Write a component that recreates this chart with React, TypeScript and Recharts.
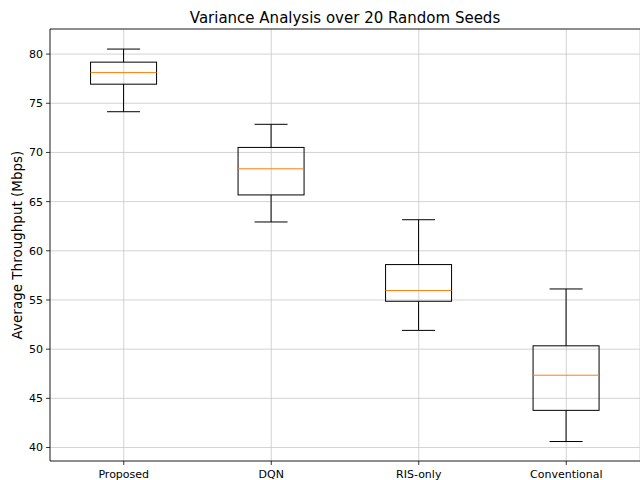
import { BarChart, Bar, XAxis, YAxis, CartesianGrid, ReferenceLine } from "recharts";

const methods = ["Proposed", "DQN", "RIS-only", "Conventional"];
const whiskerLow = [74.14, 62.93, 51.91, 40.61];
const q1 = [76.94, 65.68, 54.87, 43.78];
const median = [78.12, 68.34, 55.96, 47.35];
const q3 = [79.18, 70.51, 58.6, 50.34];
const whiskerHigh = [80.51, 72.86, 63.16, 56.12];
const yTicks = [40, 45, 50, 55, 60, 65, 70, 75, 80];

const Y_MIN = 38.63;
const Y_MAX = 82.55;
const FONT = "'DejaVu Sans', sans-serif";

const data = methods.map((name, i) => ({
  name,
  range: [whiskerLow[i], whiskerHigh[i]],
  lo: whiskerLow[i],
  q1: q1[i],
  med: median[i],
  q3: q3[i],
  hi: whiskerHigh[i],
}));

interface BoxProps {
  x?: number;
  y?: number;
  width?: number;
  height?: number;
  payload?: { lo: number; q1: number; med: number; q3: number; hi: number };
}

// whole whisker span comes from the bar; inner levels are placed along it
function BoxShape({ x = 0, y = 0, width = 0, height = 0, payload }: BoxProps) {
  if (!payload) return null;
  const top = Math.min(y, y + height);
  const h = Math.abs(height);
  const span = payload.hi - payload.lo;
  const yOf = (v: number) => top + ((payload.hi - v) / span) * h;
  const cx = x + width / 2;
  const cap = width / 4;
  const yQ1 = yOf(payload.q1);
  const yQ3 = yOf(payload.q3);
  const yMed = yOf(payload.med);
  const yHi = yOf(payload.hi);
  const yLo = yOf(payload.lo);
  return (
    <g>
      <line x1={cx} x2={cx} y1={yHi} y2={yQ3} stroke="#000" strokeWidth={1} />
      <line x1={cx} x2={cx} y1={yQ1} y2={yLo} stroke="#000" strokeWidth={1} />
      <line x1={cx - cap} x2={cx + cap} y1={yHi} y2={yHi} stroke="#000" strokeWidth={1} />
      <line x1={cx - cap} x2={cx + cap} y1={yLo} y2={yLo} stroke="#000" strokeWidth={1} />
      <rect x={x} y={yQ3} width={width} height={yQ1 - yQ3} fill="none" stroke="#000" strokeWidth={1} />
      <line x1={x} x2={x + width} y1={yMed} y2={yMed} stroke="#ff7f0e" strokeWidth={1} />
    </g>
  );
}

export default function App() {
  return (
    <div style={{ position: "fixed", left: 0, top: 0, width: 640, height: 480, background: "#fff", fontFamily: FONT }}>
      <div
        style={{
          position: "absolute",
          left: 50,
          width: 590,
          top: 10.5,
          textAlign: "center",
          fontSize: 15,
          lineHeight: "15px",
          color: "#000",
          whiteSpace: "nowrap",
        }}
      >
        Variance Analysis over 20 Random Seeds
      </div>
      <div
        style={{
          position: "absolute",
          left: 16.5,
          top: 245,
          transform: "translate(-50%, -50%) rotate(-90deg)",
          whiteSpace: "nowrap",
          fontSize: 13.5,
          lineHeight: "16px",
          color: "#000",
        }}
      >
        Average Throughput (Mbps)
      </div>
      <BarChart
        width={640}
        height={480}
        data={data}
        margin={{ top: 29, right: 0, bottom: 0, left: 0 }}
        barCategoryGap="27.5%"
        style={{ position: "absolute", left: 0, top: 0 }}
      >
        <CartesianGrid stroke="#c8c8c8" strokeWidth={0.8} />
        <XAxis
          dataKey="name"
          height={19}
          tickSize={4}
          tickMargin={5}
          axisLine={{ stroke: "#000", strokeWidth: 0.8 }}
          tickLine={{ stroke: "#000", strokeWidth: 0.8 }}
          tick={{ fill: "#000", fontSize: 11, fontFamily: FONT }}
        />
        <YAxis
          type="number"
          width={50}
          domain={[Y_MIN, Y_MAX]}
          ticks={yTicks}
          allowDataOverflow
          tickSize={4}
          tickMargin={3}
          axisLine={{ stroke: "#000", strokeWidth: 0.8 }}
          tickLine={{ stroke: "#000", strokeWidth: 0.8 }}
          tick={{ fill: "#000", fontSize: 11, fontFamily: FONT }}
        />
        <ReferenceLine y={Y_MAX} stroke="#000" strokeWidth={0.8} />
        <Bar dataKey="range" shape={<BoxShape />} isAnimationActive={false} />
      </BarChart>
    </div>
  );
}
